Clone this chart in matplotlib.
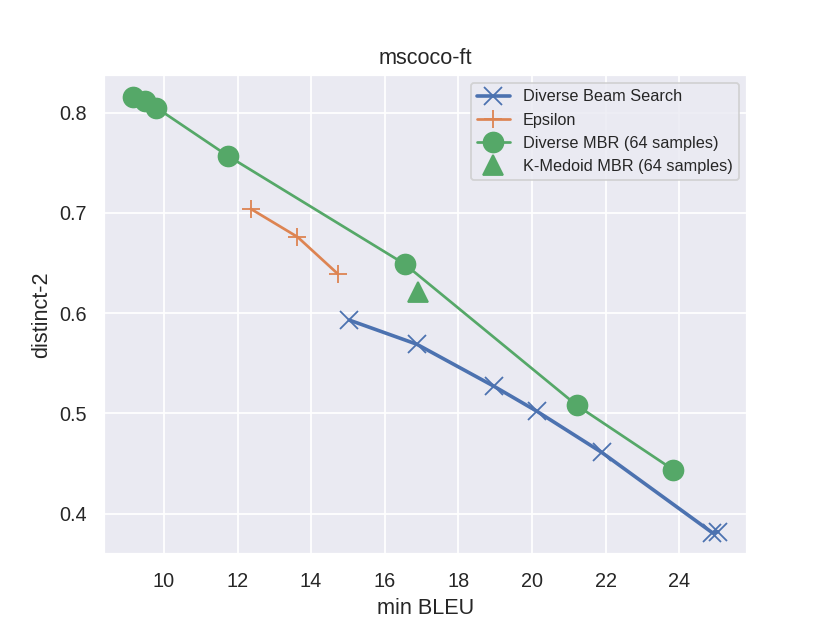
import matplotlib
matplotlib.use("Agg")
import matplotlib.pyplot as plt
import seaborn as sns

# values
dbs_bleu = [15.04, 16.87, 18.97, 20.14, 21.9, 24.9, 25.05]
dbs_distinct = [0.593, 0.569, 0.527, 0.502, 0.461, 0.381, 0.382]

eps_bleu = [12.36, 13.63, 14.73]
eps_distinct = [0.704, 0.676, 0.639]

dmbr_bleu = [9.16, 9.48, 9.79, 11.73, 16.54, 21.22, 23.83]
dmbr_distinct = [0.816, 0.812, 0.805, 0.757, 0.649, 0.508, 0.444]

kmed_bleu = [16.9]
kmed_distinct = [0.621]

sns.set_theme()
plt.rcParams['font.family'] = ['Liberation Sans', 'DejaVu Sans']

colors = sns.color_palette()
fig = plt.figure(figsize=(830 / 130, 623 / 130), dpi=130)
ax = fig.add_subplot(111)

ax.plot(dbs_bleu, dbs_distinct, marker='x', markersize=10.5, linewidth=2,
        color=colors[0], label='Diverse Beam Search')
ax.plot(eps_bleu, eps_distinct, marker='+', markersize=10.5, color=colors[1],
        label='Epsilon')
ax.plot(dmbr_bleu, dmbr_distinct, marker='o', markersize=11, color=colors[2],
        label='Diverse MBR (64 samples)')
ax.plot(kmed_bleu, kmed_distinct, marker='^', markersize=11, linestyle='none',
        color=colors[2], label='K-Medoid MBR (64 samples)')

ax.set_xlabel('min BLEU')
ax.set_ylabel('distinct-2')
ax.set_title('mscoco-ft')
ax.legend(loc='upper right', fontsize=9)

fig.savefig('out.png', dpi=130)
